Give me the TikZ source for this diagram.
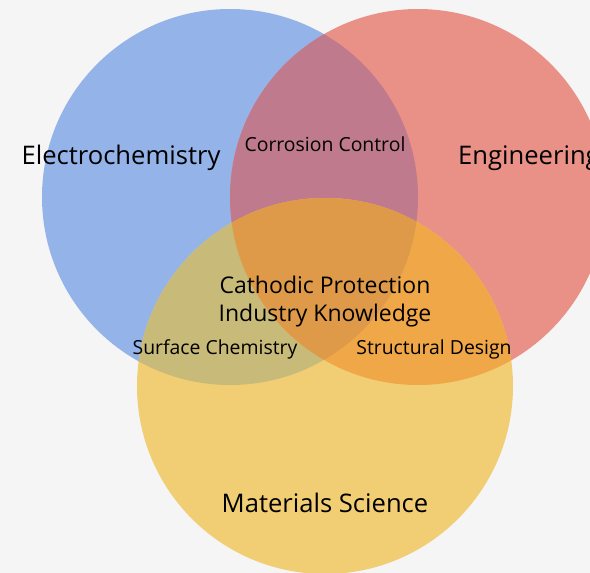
\documentclass[tikz,border=0pt]{standalone}
\usepackage{fontspec}
\setmainfont{Open Sans}
\definecolor{bgc}{HTML}{F5F5F5}
\definecolor{cb}{HTML}{94B3E8}
\definecolor{cr}{HTML}{E99087}
\definecolor{cy}{HTML}{F1CE74}
\definecolor{cbr}{HTML}{BF7A8D}
\definecolor{cby}{HTML}{C8BA78}
\definecolor{cry}{HTML}{F0A748}
\definecolor{cbry}{HTML}{DE9A48}
\tikzset{
  big/.style={font=\fontsize{25.6}{30}\selectfont, text=black, inner sep=0pt},
  mid/.style={font=\fontsize{23}{27}\selectfont, text=black, inner sep=0pt},
  small/.style={font=\fontsize{19.4}{23}\selectfont, text=black, inner sep=0pt},
}
\begin{document}
\begin{tikzpicture}[x=1pt,y=-1pt]
\useasboundingbox (0,0) rectangle (590,573);
\clip (0,0) rectangle (590,573);
\fill[bgc] (0,0) rectangle (590,573);
\def\R{188}
\coordinate (B) at (230,197);
\coordinate (Rc) at (418,197);
\coordinate (Y) at (325,386);
\fill[cb] (B) circle (\R);
\fill[cr] (Rc) circle (\R);
\fill[cy] (Y) circle (\R);
\begin{scope}
  \clip (B) circle (\R);
  \fill[cbr] (Rc) circle (\R);
  \fill[cby] (Y) circle (\R);
\end{scope}
\begin{scope}
  \clip (Rc) circle (\R);
  \fill[cry] (Y) circle (\R);
  \clip (B) circle (\R);
  \fill[cbry] (Y) circle (\R);
\end{scope}
\node[big] (e) at (121,158) {Electrochemistry};
\node[big, anchor=west] (g) at (458,158) {Engineering};
\node[small] (cc) at (325,144) {Corrosion Control};
\node[mid] (cp) at (325,285) {Cathodic Protection};
\node[mid] (ik) at (325,316) {Industry Knowledge};
\node[small] (sc) at (215,349) {Surface Chemistry};
\node[small] (sd) at (434,349) {Structural Design};
\node[big] (ms) at (325,503) {Materials Science};
\end{tikzpicture}
\end{document}
